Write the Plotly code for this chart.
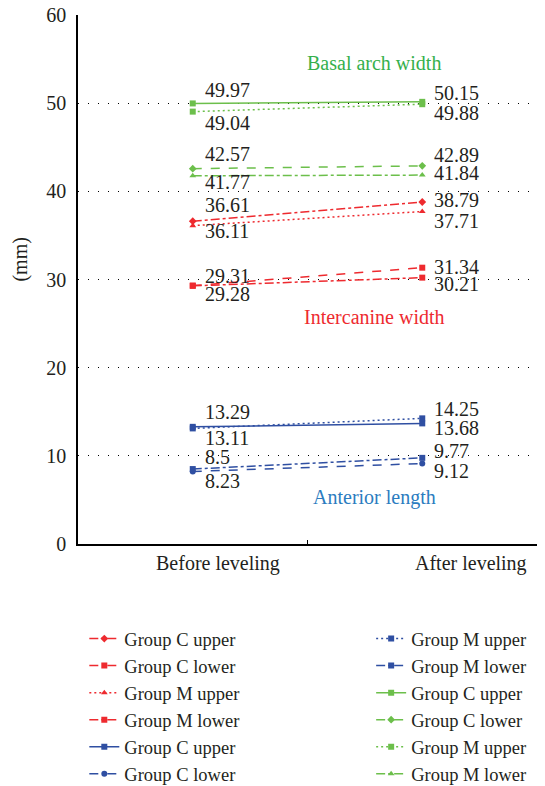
import plotly.graph_objects as go

categories = ["Before leveling", "After leveling"]

series_names = [
    "Group C upper", "Group C lower", "Group M upper", "Group M lower",
    "Group C upper", "Group C lower", "Group M upper", "Group M lower",
    "Group C upper", "Group C lower", "Group M upper", "Group M lower",
]
red_c_upper = [36.61, 38.79]
red_c_lower = [29.31, 31.34]
red_m_upper = [36.11, 37.71]
red_m_lower = [29.28, 30.21]
blue_c_upper = [13.29, 13.68]
blue_c_lower = [8.23, 9.12]
blue_m_upper = [13.11, 14.25]
blue_m_lower = [8.5, 9.77]
green_c_upper = [49.97, 50.15]
green_c_lower = [42.57, 42.89]
green_m_upper = [49.04, 49.88]
green_m_lower = [41.77, 41.84]

section_titles = ["Basal arch width", "Intercanine width", "Anterior length"]
section_title_y = [54.6, 25.8, 5.3]

y_ticks = [0, 10, 20, 30, 40, 50, 60]

# styling (not data)
RED = "#ee2a2f"
BLUE = "#2f4fa2"
GREEN = "#6cbf4b"
FONT = "Liberation Serif"
TXT = "#231f20"
DOTS = "2px,3px"
W, H = 545, 786

all_values = [red_c_upper, red_c_lower, red_m_upper, red_m_lower,
              blue_c_upper, blue_c_lower, blue_m_upper, blue_m_lower,
              green_c_upper, green_c_lower, green_m_upper, green_m_lower]
colors = [RED] * 4 + [BLUE] * 4 + [GREEN] * 4
dashes = ["dashdot", "dash", DOTS, "dashdot",
          "solid", "dash", DOTS, "dashdot",
          "solid", "dash", DOTS, "dashdot"]
symbols = ["diamond", "square", "triangle-up", "square",
           "square", "circle", "square", "square",
           "square", "diamond", "square", "triangle-up"]
# label vertical offsets in px (positive = below the point)
label_offsets = [(-16, -2), (-10, -1), (5, 9), (8, 6),
                 (-15, 5), (10, 7), (10, -9), (-12, -7),
                 (-13, -9), (-15, -11), (11, 9), (6, -2)]

fig = go.Figure()
for i, (name, vals) in enumerate(zip(series_names, all_values)):
    fig.add_trace(go.Scatter(
        x=categories, y=vals, mode="lines+markers", name=name,
        line=dict(color=colors[i], width=1.5, dash=dashes[i]),
        marker=dict(color=colors[i], symbol=symbols[i], size=6),
        legend="legend" if i < 6 else "legend2",
        showlegend=True,
    ))
    for j, v in enumerate(vals):
        fig.add_annotation(
            x=categories[j], y=v, text=f"{v:g}", showarrow=False,
            xanchor="left", yanchor="middle", xshift=10,
            yshift=-label_offsets[i][j],
            font=dict(family=FONT, size=20, color=TXT),
        )

title_colors = ["#35b04c", RED, "#2b7cc0"]
for t, y, c in zip(section_titles, section_title_y, title_colors):
    fig.add_annotation(x=0.645, xref="paper", y=y, text=t, showarrow=False,
                       xanchor="center", yanchor="middle",
                       font=dict(family=FONT, size=20, color=c))

# category labels
for cat, xs in zip(categories, [25, 49]):
    fig.add_annotation(x=cat, y=0, yref="y", text=cat, showarrow=False,
                       xanchor="center", yanchor="middle", xshift=xs, yshift=-19,
                       font=dict(family=FONT, size=20, color=TXT))

fig.add_annotation(xref="x domain", x=-0.126, yref="y domain", y=0.538,
                   xanchor="center", yanchor="middle",
                   text="(mm)", showarrow=False, textangle=-90,
                   font=dict(family=FONT, size=20, color=TXT))

legend_common = dict(
    xref="container", yref="container", xanchor="left", yanchor="top",
    font=dict(family=FONT, size=18.5, color=TXT), bgcolor="rgba(0,0,0,0)",
    tracegroupgap=0, itemwidth=30, traceorder="normal",
)
fig.update_layout(
    width=W, height=H,
    margin=dict(l=78, r=8, t=15, b=242, autoexpand=False),
    paper_bgcolor="white", plot_bgcolor="white",
    showlegend=True,
    legend=dict(x=0.1547, y=1 - 620 / H, **legend_common),
    legend2=dict(x=0.681, y=1 - 620 / H, **legend_common),
    xaxis=dict(
        type="category", range=[-0.5, 1.5], showgrid=False,
        showticklabels=False, tickson="boundaries", ticks="inside",
        ticklen=4, tickcolor="black", showline=True, linecolor="black",
        linewidth=1.5, zeroline=False,
    ),
    yaxis=dict(
        range=[0, 60], tickvals=y_ticks, showline=True, linecolor="black",
        linewidth=1.5, showgrid=True, gridcolor="black", griddash="1px,9px",
        gridwidth=1, zeroline=False, ticks="", ticklabelstandoff=6,
        tickfont=dict(family=FONT, size=20, color=TXT),
    ),
    font=dict(family=FONT),
)
fig.write_html("out.html", config={"displayModeBar": False},
               post_script="document.body.style.margin='0';document.body.style.overflow='hidden';")
